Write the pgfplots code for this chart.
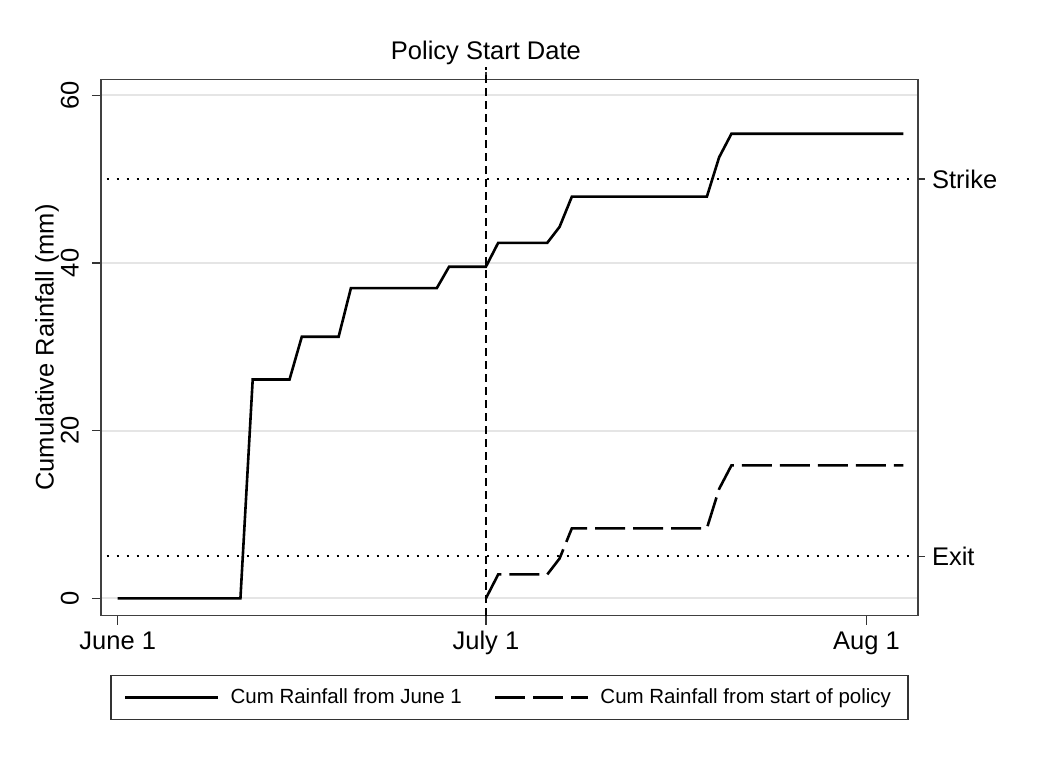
\documentclass[border=0pt]{standalone}
\usepackage{fontspec}
\setmainfont{Liberation Sans}
\usepackage{pgfplots}
\pgfplotsset{compat=1.18}

\newcommand{\bigf}{\fontsize{12.75}{15}\selectfont}
\newcommand{\legf}{\fontsize{10.25}{12}\selectfont}

\pgfplotsset{
  rainaxis/.style={
    width=408.5pt, height=268.2pt, scale only axis,
    xmin=-1.36, xmax=65.2, ymin=-2.07, ymax=61.9,
    tick align=outside,
    tick style={black!80, line width=0.6pt},
    ticklabel style={font=\bigf},
    /pgf/number format/assume math mode=true,
  }
}

\begin{document}
\begin{tikzpicture}
\useasboundingbox (-50.5pt,-70.65pt) rectangle (470pt,307.85pt);

\begin{axis}[rainaxis,
  major tick length=4.5pt,
  axis line style={black!75, line width=0.6pt},
  xtick={0,30,61}, xticklabels={June 1, July 1, Aug 1},
  xticklabel style={text height=0.75em, text depth=0.22em, yshift=-1.5pt},
  xtick pos=left, ytick pos=left,
  ytick={0,20,40,60},
  % rotated labels: yshift moves them leftwards
  yticklabel style={rotate=90, anchor=south, yshift=3pt},
  ymajorgrids, grid style={black!10, line width=1pt},
  ylabel={Cumulative Rainfall (mm)},
  ylabel style={font=\bigf, at={(axis description cs:-0.066,0.5)}, anchor=center},
  legend style={at={(0.5,-0.1106)}, anchor=north, legend columns=2,
    draw=black!80, line width=0.6pt, font=\legf,
    inner xsep=6.5pt, inner ysep=4.5pt,
    /tikz/every odd column/.append style={column sep=3.5pt},
    /tikz/every even column/.append style={column sep=14pt}},
  legend image code/.code={\draw[#1] (0pt,0pt) -- (46.5pt,0pt);},
]
% strike and exit levels
\addplot[black, line width=1pt, dash pattern=on 1pt off 4pt, forget plot]
  coordinates {(-0.9,50) (64.7,50)};
\addplot[black, line width=1pt, dash pattern=on 1pt off 4pt, forget plot]
  coordinates {(-0.9,5) (64.7,5)};

% cumulative rainfall since June 1
\addplot[black, line width=1.3pt] coordinates {
  (0,0) (10,0) (11,26.1) (14,26.1) (15,31.2) (18,31.2) (19,37.0)
  (26,37.0) (27,39.55) (30,39.55) (31,42.4) (35,42.4) (36,44.3)
  (37,47.9) (48,47.9) (49,52.6) (50,55.4) (64,55.4)
};
\addlegendentry{Cum Rainfall from June 1}

% cumulative rainfall since policy start
\addplot[black, line width=1.3pt, dash pattern=on 15pt off 4pt] coordinates {
  (30,0) (31,2.85) (35,2.85) (36,4.75) (37,8.35) (48,8.35)
  (49,13.05) (50,15.85) (64,15.85)
};
\addlegendentry{Cum Rainfall from start of policy}
\end{axis}

% right and top annotations
\begin{axis}[rainaxis,
  major tick length=3.5pt,
  axis line style={draw=none},
  clip=false,
  xtick={30}, xticklabels={Policy Start Date},
  xtick pos=right, xticklabel pos=right,
  ytick={5,50}, yticklabels={Exit, Strike},
  ytick pos=right, yticklabel pos=right,
]
\addplot[black, line width=0.6pt, dash pattern=on 4pt off 2.5pt, forget plot]
  coordinates {(30,-2.07) (30,63.35)};
\end{axis}
\end{tikzpicture}
\end{document}
